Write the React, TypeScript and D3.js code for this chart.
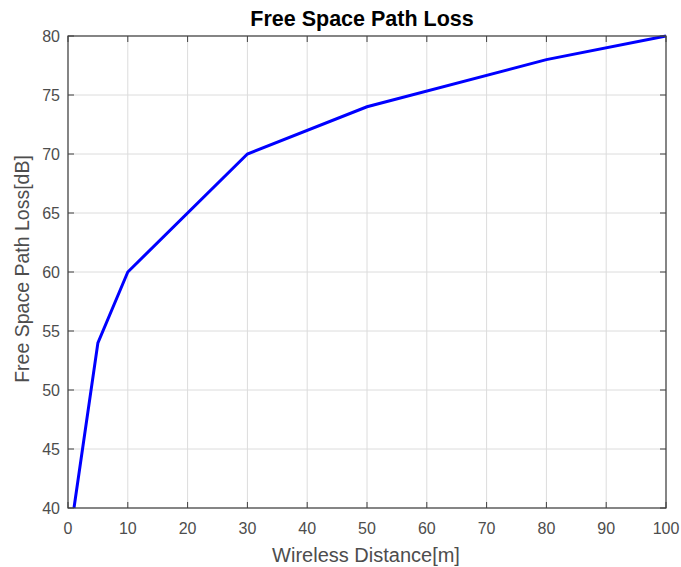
import React from "react";
import * as d3 from "d3";

const distances = [1, 5, 10, 30, 50, 80, 100];
const pathLoss = [40, 54, 60, 70, 74, 78, 80];
const xTicks = [0, 10, 20, 30, 40, 50, 60, 70, 80, 90, 100];
const yTicks = [40, 45, 50, 55, 60, 65, 70, 75, 80];

export default function App() {
  const W = 681, H = 567;
  const L = 68, R = 666, T = 36, B = 508;
  const x = d3.scaleLinear().domain([0, 100]).range([L, R]);
  const y = d3.scaleLinear().domain([40, 80]).range([B, T]);
  const line = d3.line<number>().x((_, i) => x(distances[i])).y((d) => y(d));
  const font = "'Liberation Sans', Arial, sans-serif";
  const axisColor = "#404040";
  const tickLen = 6;
  return (
    <svg width={W} height={H} style={{ position: "absolute", left: 0, top: 0, background: "#fff" }}>
      <rect x={0} y={0} width={W} height={H} fill="#fff" />
      {xTicks.map((t) => (
        <line key={"gx" + t} x1={x(t)} x2={x(t)} y1={T} y2={B} stroke="#dcdcdc" strokeWidth={1} />
      ))}
      {yTicks.map((t) => (
        <line key={"gy" + t} x1={L} x2={R} y1={y(t)} y2={y(t)} stroke="#dcdcdc" strokeWidth={1} />
      ))}
      <path d={line(pathLoss) || ""} fill="none" stroke="#0000ff" strokeWidth={3} />
      <rect x={L} y={T} width={R - L} height={B - T} fill="none" stroke={axisColor} strokeWidth={1.2} />
      {xTicks.map((t) => (
        <g key={"tx" + t}>
          <line x1={x(t)} x2={x(t)} y1={B} y2={B - tickLen} stroke={axisColor} />
          <line x1={x(t)} x2={x(t)} y1={T} y2={T + tickLen} stroke={axisColor} />
          <text x={x(t)} y={B + 26} textAnchor="middle" fontSize={16} fontFamily={font} fill="#4d4d4d">{t}</text>
        </g>
      ))}
      {yTicks.map((t) => (
        <g key={"ty" + t}>
          <line x1={L} x2={L + tickLen} y1={y(t)} y2={y(t)} stroke={axisColor} />
          <line x1={R} x2={R - tickLen} y1={y(t)} y2={y(t)} stroke={axisColor} />
          <text x={L - 8} y={y(t) + 6} textAnchor="end" fontSize={16} fontFamily={font} fill="#4d4d4d">{t}</text>
        </g>
      ))}
      <text x={362} y={26} textAnchor="middle" fontSize={21.5} fontWeight="bold" fontFamily={font} fill="#000">Free Space Path Loss</text>
      <text x={366} y={562} textAnchor="middle" fontSize={20} fontFamily={font} fill="#4d4d4d">Wireless Distance[m]</text>
      <text transform={`translate(29, 269) rotate(-90)`} textAnchor="middle" fontSize={19.5} fontFamily={font} fill="#4d4d4d">Free Space Path Loss[dB]</text>
    </svg>
  );
}
